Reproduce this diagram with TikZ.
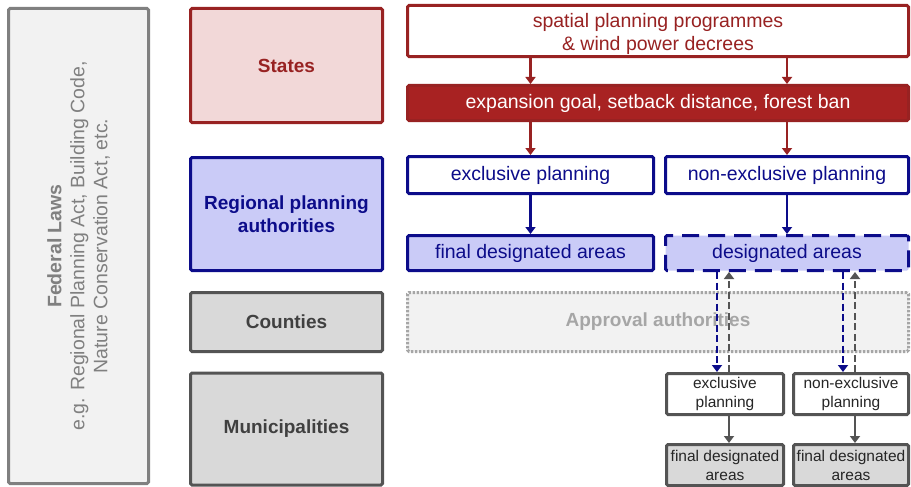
\documentclass[tikz,border=0pt]{standalone}
\usepackage{fontspec}
\setmainfont{Liberation Sans}
\usetikzlibrary{shapes,arrows.meta}

\definecolor{darkred}{HTML}{982222}
\definecolor{redfill}{HTML}{A82222}
\definecolor{redpale}{HTML}{F2D8D8}
\definecolor{navy}{HTML}{0C0C8A}
\definecolor{bluepale}{HTML}{CACBF7}
\definecolor{darkgrey}{HTML}{545454}
\definecolor{greyfill}{HTML}{D9D9D9}
\definecolor{paleback}{HTML}{F2F2F2}
\definecolor{midgrey}{HTML}{A6A6A6}

\tikzstyle{box} = [rectangle, draw, line width=3pt, rounded corners=1.5pt, align=center, inner sep=2pt, font=\fontsize{19.5}{23}\selectfont]
\tikzstyle{level} = [box, minimum width=192pt, font=\bfseries\fontsize{19}{23}\selectfont]
\tikzstyle{small} = [box, draw=darkgrey, font=\fontsize{15.5}{19}\selectfont, text=black!85, minimum height=41pt]
\tikzstyle{line} = [draw, line width=2.8pt, -{Triangle[length=7pt,width=10pt]}]
\tikzstyle{redarrow} = [line, draw=darkred]
\tikzstyle{bluearrow} = [line, draw=navy]
\tikzstyle{greyarrow} = [line, draw=darkgrey]

\begin{document}
\begin{tikzpicture}[x=1pt,y=-1pt]
\useasboundingbox (0,0) rectangle (911,487);

% federal frame on the far left
\node [box, rotate=90, draw=gray, fill=paleback, text=gray, minimum width=475pt, minimum height=140pt] (federal) at (78.5,246)
  {\textbf{Federal Laws}\\e.g. Regional Planning Act, Building Code,\\Nature Conservation Act, etc.};

% levels of government
\node [level, draw=darkred, fill=redpale, text=darkred, minimum height=114pt] (states) at (286.5,65.5) {States};
\node [level, draw=navy, fill=bluepale, text=navy, minimum height=113pt] (regional) at (286.5,214) {Regional planning\\authorities};
\node [level, draw=darkgrey, fill=greyfill, text=black!75, minimum height=59pt] (counties) at (286.5,322) {Counties};
\node [level, draw=darkgrey, fill=greyfill, text=black!75, minimum height=112pt] (municipalities) at (286.5,429) {Municipalities};

% states row
\node [box, draw=darkred, fill=white, text=darkred, minimum width=501pt, minimum height=45pt] (programmes) at (658,31)
  {\rule{0pt}{20pt}spatial planning programmes\\\& wind power decrees};
\node [box, draw=darkred, fill=redfill, text=white, minimum width=501pt, minimum height=35pt] (goals) at (658,103)
  {expansion goal, setback distance, forest ban};

% regional row
\node [box, draw=navy, fill=white, text=navy, minimum width=246pt, minimum height=37pt] (exclusive) at (530.5,175) {exclusive planning};
\node [box, draw=navy, fill=white, text=navy, minimum width=243pt, minimum height=37pt] (nonexclusive) at (787,175) {non-exclusive planning};
\node [box, draw=navy, fill=bluepale, text=navy, minimum width=246pt, minimum height=35pt] (finalareas) at (530.5,253) {final designated areas};
\node [box, draw=navy, fill=bluepale, text=navy, dash pattern=on 17pt off 9pt, minimum width=243pt, minimum height=35pt] (areas) at (787,253) {designated areas};

% counties row
\node [box, draw=midgrey, fill=paleback, text=midgrey, dash pattern=on 2.5pt off 1.5pt, font=\bfseries\fontsize{19}{23}\selectfont, minimum width=501pt, minimum height=59pt] (approval) at (658,322) {Approval authorities};

% municipal row
\node [small, fill=white, minimum width=117pt] (munexclusive) at (725,394) {exclusive\\planning};
\node [small, fill=white, minimum width=115pt] (munnonexclusive) at (851,394) {non-exclusive\\planning};
\node [small, fill=greyfill, minimum width=117pt] (munfinal) at (725,465) {final designated\\areas};
\node [small, fill=greyfill, minimum width=115pt] (munfinaltwo) at (851,465) {final designated\\areas};

% now the arrows between the blocks
\path [redarrow] (programmes.south -| exclusive) -- (goals.north -| exclusive);
\path [redarrow] (programmes.south -| nonexclusive) -- (goals.north -| nonexclusive);
\path [redarrow] (goals.south -| exclusive) -- (exclusive.north);
\path [redarrow] (goals.south -| nonexclusive) -- (nonexclusive.north);

\path [bluearrow] (exclusive) -- (finalareas);
\path [bluearrow] (nonexclusive) -- (areas);

\path [bluearrow, dash pattern=on 7pt off 3.5pt] ([xshift=-8pt]areas.south -| munexclusive) -- ([xshift=-8pt]munexclusive.north);
\path [greyarrow, dash pattern=on 7pt off 3.5pt] ([xshift=4pt]munexclusive.north) -- ([xshift=4pt]areas.south -| munexclusive);
\path [bluearrow, dash pattern=on 7pt off 3.5pt] ([xshift=-8pt]areas.south -| munnonexclusive) -- ([xshift=-8pt]munnonexclusive.north);
\path [greyarrow, dash pattern=on 7pt off 3.5pt] ([xshift=4pt]munnonexclusive.north) -- ([xshift=4pt]areas.south -| munnonexclusive);

\path [greyarrow] ([xshift=4pt]munexclusive.south) -- ([xshift=4pt]munfinal.north);
\path [greyarrow] ([xshift=4pt]munnonexclusive.south) -- ([xshift=4pt]munfinaltwo.north);

\end{tikzpicture}
\end{document}
